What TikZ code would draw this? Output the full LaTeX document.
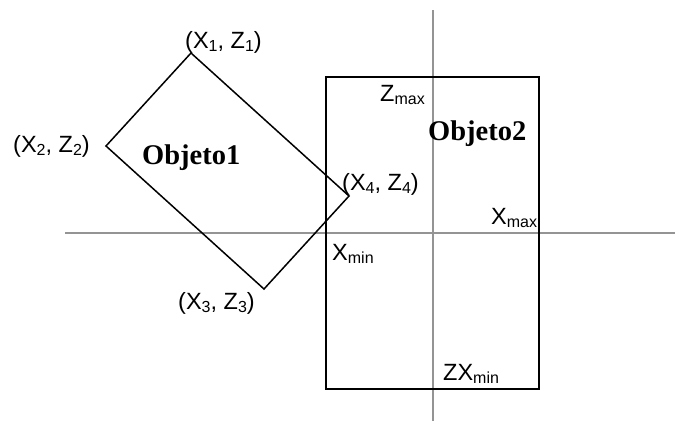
\documentclass[tikz,border=0pt]{standalone}
\usepackage{fontspec}
\setmainfont{Liberation Sans}
\newfontfamily\serifbold{Liberation Serif}
\newcommand{\lsub}[1]{\raisebox{-0.3ex}{\fontsize{16}{16}\selectfont #1}}
\begin{document}
\begin{tikzpicture}[x=1pt,y=-1pt,
  lbl/.style={anchor=base west,inner sep=0pt,font=\fontsize{23.5}{27}\selectfont},
  objlbl/.style={anchor=base west,inner sep=0pt,font=\serifbold\bfseries\fontsize{28.5}{32}\selectfont},
  axisline/.style={draw=black!42,line width=1.6pt},
  outline/.style={draw=black,line width=1.5pt,line join=miter}]
\useasboundingbox (0,0) rectangle (675,421);
% axes
\coordinate (vtop) at (433,10);
\coordinate (vbot) at (433,421);
\coordinate (hleft) at (65,233);
\coordinate (hright) at (675,233);
\draw[axisline] (vtop) -- (vbot);
\draw[axisline] (hleft) -- (hright);
% object 2 rectangle
\coordinate (r1) at (326,77);
\coordinate (r2) at (539,389);
\draw[outline] (r1) rectangle (r2);
% object 1 rotated rectangle
\coordinate (p1) at (191,53);
\coordinate (p2) at (106,146);
\coordinate (p3) at (264,289);
\coordinate (p4) at (349,196);
\draw[outline] (p1) -- (p2) -- (p3) -- (p4) -- cycle;
% labels
\node[lbl] (l1) at (185,48) {(X\lsub{1}, Z\lsub{1})};
\node[lbl] (l2) at (13,152) {(X\lsub{2}, Z\lsub{2})};
\node[lbl] (l3) at (178,309) {(X\lsub{3}, Z\lsub{3})};
\node[lbl] (l4) at (342,190) {(X\lsub{4}, Z\lsub{4})};
\node[lbl] (zmax) at (380,101) {Z\lsub{max}};
\node[lbl] (xmax) at (491,224) {X\lsub{max}};
\node[lbl] (xmin) at (332,260) {X\lsub{min}};
\node[lbl] (zxmin) at (443,380) {ZX\lsub{min}};
\node[objlbl] (o1) at (142,164) {Objeto1};
\node[objlbl] (o2) at (428,140) {Objeto2};
\end{tikzpicture}
\end{document}
